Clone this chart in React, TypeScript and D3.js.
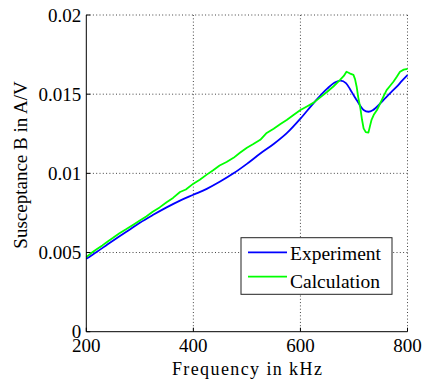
import React from "react";
import * as d3 from "d3";

const expFreq = [200, 220, 240, 260, 280, 300, 325, 350, 375, 400, 425, 450, 475, 500, 525, 550, 575, 600, 625, 650, 665, 675, 685, 693, 700, 705, 712, 718, 727, 735, 740, 755, 770, 780, 790, 800];
const expVal = [4.6, 5.05, 5.52, 5.98, 6.43, 6.88, 7.38, 7.85, 8.28, 8.65, 9.02, 9.48, 10.0, 10.6, 11.25, 11.85, 12.55, 13.45, 14.45, 15.35, 15.75, 15.85, 15.7, 15.3, 14.9, 14.63, 14.25, 14.0, 13.89, 13.98, 14.11, 14.63, 15.15, 15.47, 15.85, 16.2];

const calcFreq = [200, 210, 220, 230, 240, 250, 262, 275, 290, 300, 312, 324, 337, 350, 362, 375, 386, 400, 412, 425, 437, 449, 462, 475, 487, 500, 512, 525, 537, 550, 562, 575, 587, 600, 612, 624, 637, 650, 662, 674, 681, 686, 690, 693, 699, 702, 705, 708, 712, 715, 718, 722, 727, 730, 733, 737, 743, 749, 755, 761, 768, 774, 780, 786, 793, 800];
const calcVal = [4.72, 4.98, 5.22, 5.45, 5.7, 5.93, 6.22, 6.48, 6.8, 7.02, 7.28, 7.58, 7.85, 8.18, 8.45, 8.82, 8.98, 9.35, 9.6, 9.92, 10.2, 10.5, 10.72, 10.98, 11.3, 11.62, 11.85, 12.12, 12.55, 12.82, 13.1, 13.38, 13.68, 14.0, 14.22, 14.45, 14.8, 15.15, 15.5, 15.9, 16.15, 16.42, 16.35, 16.3, 16.22, 15.95, 15.47, 14.8, 14.11, 13.4, 12.84, 12.6, 12.57, 13.0, 13.4, 13.7, 14.0, 14.42, 14.85, 15.26, 15.55, 15.8, 16.1, 16.42, 16.55, 16.6];

const xTicks = [200, 400, 600, 800];
const yTicks = [0, 0.005, 0.01, 0.015, 0.02];
const yTickLabels = ["0", "0.005", "0.01", "0.015", "0.02"];
const seriesNames = ["Experiment", "Calculation"];
const seriesColors = ["#0000ff", "#00ff00"];

export default function App() {
  const W = 422, H = 379;
  const left = 86.3, right = 407.5, top = 15, bottom = 331.7;
  const x = d3.scaleLinear().domain([200, 800]).range([left, right]);
  const y = d3.scaleLinear().domain([0, 0.02]).range([bottom, top]);
  const smoothLine = d3.line<[number, number]>().x(d => x(d[0])).y(d => y(d[1] / 1000)).curve(d3.curveMonotoneX);
  const rawLine = d3.line<[number, number]>().x(d => x(d[0])).y(d => y(d[1] / 1000));
  const expPts = expFreq.map((f, i) => [f, expVal[i]] as [number, number]);
  const calcPts = calcFreq.map((f, i) => [f, calcVal[i]] as [number, number]);
  const font = "'Liberation Serif', 'DejaVu Serif', serif";
  const grid = { stroke: "#444", strokeWidth: 1, strokeDasharray: "1,2.3" };
  const legX = 241, legY = 237.7, legW = 151, legH = 56.6;
  return (
    <svg width={W} height={H} style={{ position: "absolute", left: 0, top: 0, background: "#fff" }}>
      <rect x={0} y={0} width={W} height={H} fill="#fff" />
      {xTicks.filter(t => t !== 200).map(t => (
        <line key={"gx" + t} x1={x(t)} x2={x(t)} y1={top} y2={bottom} {...grid} />
      ))}
      {yTicks.filter(t => t !== 0).map(t => (
        <line key={"gy" + t} x1={left} x2={right} y1={y(t)} y2={y(t)} {...grid} />
      ))}
      <path d={smoothLine(expPts) || ""} fill="none" stroke={seriesColors[0]} strokeWidth={1.8} strokeLinejoin="round" />
      <path d={rawLine(calcPts) || ""} fill="none" stroke={seriesColors[1]} strokeWidth={1.8} strokeLinejoin="round" />
      <line x1={left} x2={left} y1={top} y2={bottom} stroke="#000" strokeWidth={1} />
      <line x1={left} x2={right} y1={bottom} y2={bottom} stroke="#000" strokeWidth={1} />
      {xTicks.map(t => (
        <g key={"xt" + t}>
          <line x1={x(t)} x2={x(t)} y1={bottom} y2={bottom - 4} stroke="#000" />
          <text x={x(t)} y={bottom + 20} fontSize={19} textAnchor="middle" fill="#000" fontFamily={font}>{t}</text>
        </g>
      ))}
      {yTicks.map((t, i) => (
        <g key={"yt" + t}>
          <line x1={left} x2={left + 4} y1={y(t)} y2={y(t)} stroke="#000" />
          <text x={left - 5} y={y(t) + 6.5} fontSize={19} textAnchor="end" fill="#000" fontFamily={font}>{yTickLabels[i]}</text>
        </g>
      ))}
      <text x={(left + right) / 2} y={375} fontSize={18} textAnchor="middle" textLength={150} lengthAdjust="spacing" fill="#000" fontFamily={font}>Frequency in kHz</text>
      <text transform={`translate(27, 165) rotate(-90)`} fontSize={19} textAnchor="middle" fill="#000" fontFamily={font}>Susceptance B in A/V</text>
      <rect x={legX} y={legY} width={legW} height={legH} fill="#fff" stroke="#222" strokeWidth={1} />
      {seriesNames.map((n, i) => (
        <g key={n}>
          <line x1={248} x2={287} y1={252.3 + i * 24.4} y2={252.3 + i * 24.4} stroke={seriesColors[i]} strokeWidth={1.8} />
          <text x={290} y={260 + i * 27.7} fontSize={19.5} fill="#000" fontFamily={font}>{n}</text>
        </g>
      ))}
    </svg>
  );
}
